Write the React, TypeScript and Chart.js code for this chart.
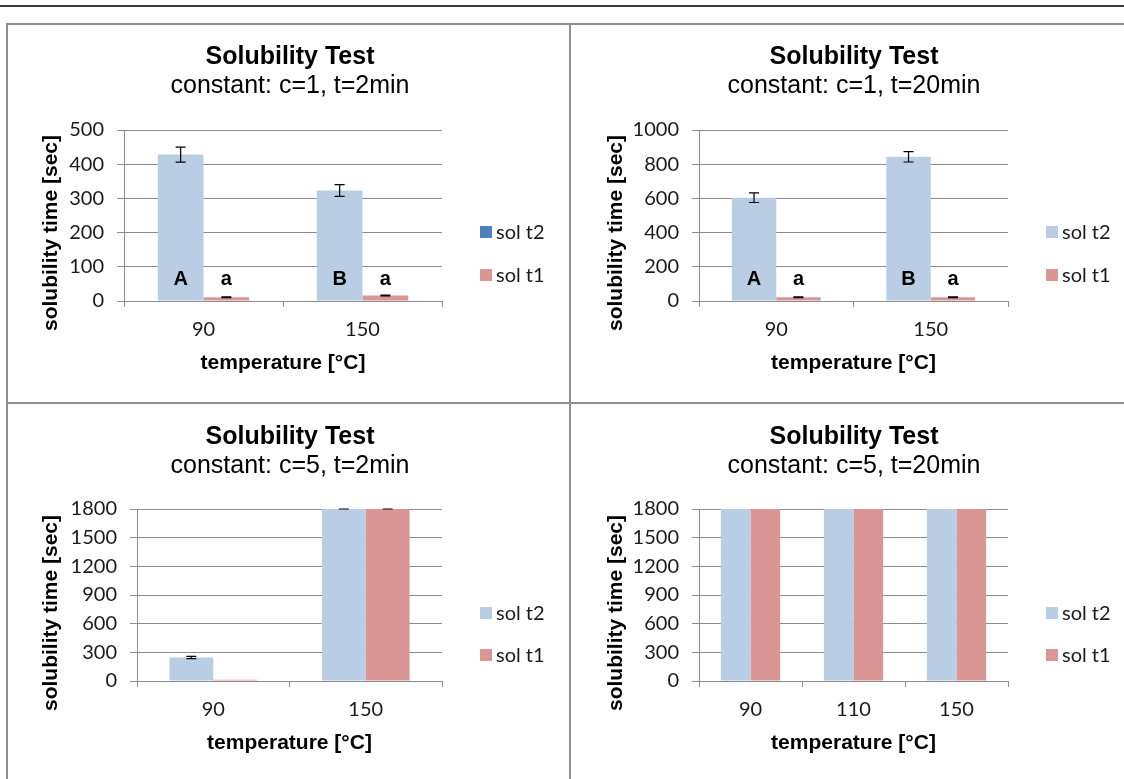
import React, { useEffect, useRef } from "react";
import { Chart, registerables } from "chart.js";

Chart.register(...registerables);

// ---------- data ----------
const SERIES = ["sol t2", "sol t1"];
const MAIN_TITLE = "Solubility Test";
const X_TITLE = "temperature [°C]";
const Y_TITLE = "solubility time [sec]";

// chart 1: c=1, t=2min
const sub1 = "constant: c=1, t=2min";
const cats1 = ["90", "150"];
const solT2_1 = [428, 323];
const solT1_1 = [11, 16];
const errT2_1 = [22, 17];
const errT1_1 = [1, 1];
const letT2_1 = ["A", "B"];
const letT1_1 = ["a", "a"];
const yMax1 = 500;
const yStep1 = 100;

// chart 2: c=1, t=20min
const sub2 = "constant: c=1, t=20min";
const cats2 = ["90", "150"];
const solT2_2 = [604, 843];
const solT1_2 = [22, 22];
const errT2_2 = [28, 30];
const errT1_2 = [2, 2];
const letT2_2 = ["A", "B"];
const letT1_2 = ["a", "a"];
const yMax2 = 1000;
const yStep2 = 200;

// chart 3: c=5, t=2min
const sub3 = "constant: c=5, t=2min";
const cats3 = ["90", "150"];
const solT2_3 = [246, 1800];
const solT1_3 = [12, 1800];
const errT2_3 = [12, 0];
const errT1_3 = [null, 0];
const yMax3 = 1800;
const yStep3 = 300;

// chart 4: c=5, t=20min
const sub4 = "constant: c=5, t=20min";
const cats4 = ["90", "110", "150"];
const solT2_4 = [1800, 1800, 1800];
const solT1_4 = [1800, 1800, 1800];
const yMax4 = 1800;
const yStep4 = 300;

// ---------- style ----------
const BLUE = "#B9CDE5";
const DARK_BLUE = "#4F81BD";
const PINK = "#D99694";
const GRID = "#8c8c8c";
const TEXT = "#1a1a1a";
const ARIAL = '"Liberation Sans", Arial, sans-serif';
const TICKF = 'Lato, "Open Sans", sans-serif';

type Spec = {
  sub: string;
  cats: string[];
  t2: number[];
  t1: number[];
  e2?: (number | null)[];
  e1?: (number | null)[];
  l2?: string[];
  l1?: string[];
  yMax: number;
  yStep: number;
  legendColors: string[];
};

const specs: Spec[] = [
  { sub: sub1, cats: cats1, t2: solT2_1, t1: solT1_1, e2: errT2_1, e1: errT1_1, l2: letT2_1, l1: letT1_1, yMax: yMax1, yStep: yStep1, legendColors: [DARK_BLUE, PINK] },
  { sub: sub2, cats: cats2, t2: solT2_2, t1: solT1_2, e2: errT2_2, e1: errT1_2, l2: letT2_2, l1: letT1_2, yMax: yMax2, yStep: yStep2, legendColors: [BLUE, PINK] },
  { sub: sub3, cats: cats3, t2: solT2_3, t1: solT1_3, e2: errT2_3, e1: errT1_3, yMax: yMax3, yStep: yStep3, legendColors: [BLUE, PINK] },
  { sub: sub4, cats: cats4, t2: solT2_4, t1: solT1_4, yMax: yMax4, yStep: yStep4, legendColors: [BLUE, PINK] },
];

type Layout = {
  left: number; top: number; w: number; h: number;
  l: number; r: number; t: number; b: number;
  titleX: number; titleY: number; subY: number;
  yTitleX: number; yTitleY: number; xTitleY: number;
  legX: number; legY: number[];
};

const layouts: Layout[] = [
  { left: 9, top: 26, w: 560, h: 376, l: 115, r: 433, t: 104, b: 275, titleX: 281, titleY: 31, subY: 60, yTitleX: 42, yTitleY: 207, xTitleY: 337, legX: 471, legY: [206, 249] },
  { left: 572, top: 26, w: 552, h: 376, l: 127, r: 436, t: 104, b: 275, titleX: 282, titleY: 31, subY: 60, yTitleX: 44, yTitleY: 207, xTitleY: 337, legX: 474, legY: [206, 249] },
  { left: 9, top: 405, w: 560, h: 374, l: 128, r: 433, t: 104, b: 276, titleX: 281, titleY: 32, subY: 61, yTitleX: 42, yTitleY: 208, xTitleY: 338, legX: 471, legY: [208, 250] },
  { left: 572, top: 405, w: 552, h: 374, l: 127, r: 436, t: 104, b: 276, titleX: 282, titleY: 32, subY: 61, yTitleX: 44, yTitleY: 208, xTitleY: 338, legX: 474, legY: [208, 250] },
];

function makeDecor(spec: Spec, lay: Layout) {
  return {
    id: "decor",
    afterDatasetsDraw(chart: any) {
      const ctx = chart.ctx as CanvasRenderingContext2D;
      const y = chart.scales.y;
      const errs = [spec.e2, spec.e1];
      const lets = [spec.l2, spec.l1];
      const vals = [spec.t2, spec.t1];
      ctx.save();
      for (let d = 0; d < 2; d++) {
        const meta = chart.getDatasetMeta(d);
        const e = errs[d];
        meta.data.forEach((bar: any, i: number) => {
          if (e && e[i] !== null && e[i] !== undefined) {
            const v = vals[d][i];
            const yTop = y.getPixelForValue(v + (e[i] as number));
            const yBot = y.getPixelForValue(v - (e[i] as number));
            ctx.strokeStyle = "#000";
            ctx.lineWidth = 1.2;
            ctx.beginPath();
            ctx.moveTo(bar.x, yTop);
            ctx.lineTo(bar.x, yBot);
            ctx.moveTo(bar.x - 5, yTop);
            ctx.lineTo(bar.x + 5, yTop);
            ctx.moveTo(bar.x - 5, yBot);
            ctx.lineTo(bar.x + 5, yBot);
            ctx.stroke();
          }
          const L = lets[d];
          if (L && L[i]) {
            ctx.fillStyle = "#000";
            ctx.font = `bold 20px ${ARIAL}`;
            ctx.textAlign = "center";
            ctx.textBaseline = "middle";
            ctx.fillText(L[i], bar.x, y.bottom - 22);
          }
        });
      }
      ctx.restore();
    },
    afterDraw(chart: any) {
      const ctx = chart.ctx as CanvasRenderingContext2D;
      const ca = chart.chartArea;
      ctx.save();
      ctx.fillStyle = "#000";
      ctx.textAlign = "center";
      ctx.textBaseline = "middle";
      ctx.font = `bold 25px ${ARIAL}`;
      ctx.fillText(MAIN_TITLE, lay.titleX, lay.titleY);
      ctx.font = `25px ${ARIAL}`;
      ctx.fillText(spec.sub, lay.titleX, lay.subY);
      ctx.font = `bold 21px ${ARIAL}`;
      ctx.fillText(X_TITLE, (ca.left + ca.right) / 2, lay.xTitleY);
      ctx.save();
      ctx.translate(lay.yTitleX, lay.yTitleY);
      ctx.rotate(-Math.PI / 2);
      ctx.fillText(Y_TITLE, 0, 0);
      ctx.restore();
      ctx.textAlign = "left";
      ctx.font = `20px ${TICKF}`;
      SERIES.forEach((s, k) => {
        ctx.fillStyle = spec.legendColors[k];
        ctx.fillRect(lay.legX, lay.legY[k] - 6, 12, 12);
        ctx.fillStyle = TEXT;
        ctx.fillText(s, lay.legX + 16, lay.legY[k] + 1);
      });
      ctx.restore();
    },
  };
}

function ChartCell({ spec, lay }: { spec: Spec; lay: Layout }) {
  const ref = useRef<HTMLCanvasElement | null>(null);
  useEffect(() => {
    if (!ref.current) return;
    const chart = new Chart(ref.current, {
      type: "bar",
      data: {
        labels: spec.cats,
        datasets: [
          { label: SERIES[0], data: spec.t2, backgroundColor: BLUE, borderWidth: 0 },
          { label: SERIES[1], data: spec.t1, backgroundColor: PINK, borderWidth: 0 },
        ],
      },
      options: {
        responsive: false,
        animation: false,
        devicePixelRatio: 1,
        layout: { padding: { left: 0, top: lay.t, right: lay.w - lay.r, bottom: 0 } },
        datasets: { bar: { barPercentage: 1, categoryPercentage: 0.575 } },
        plugins: { legend: { display: false }, title: { display: false }, tooltip: { enabled: false } },
        scales: {
          x: {
            type: "category",
            offset: true,
            grid: { display: true, drawOnChartArea: false, drawTicks: true, tickLength: 6, color: GRID, lineWidth: 1, offset: true },
            border: { display: true, color: GRID, width: 1 },
            ticks: { color: TEXT, font: { family: TICKF, size: 20 }, padding: 11, maxRotation: 0 },
            afterFit: (s: any) => { s.height = lay.h - lay.b; },
          },
          y: {
            min: 0,
            max: spec.yMax,
            grid: { color: GRID, lineWidth: 1, drawTicks: true, tickLength: 7 },
            border: { display: true, color: GRID, width: 1 },
            ticks: {
              stepSize: spec.yStep,
              color: TEXT,
              font: { family: TICKF, size: 20 },
              padding: 13,
              callback: (v: any) => String(v),
            },
            afterFit: (s: any) => { s.width = lay.l; },
          },
        },
      },
      plugins: [makeDecor(spec, lay)],
    });
    return () => chart.destroy();
  }, []);
  return (
    <canvas
      ref={ref}
      width={lay.w}
      height={lay.h}
      style={{ position: "absolute", left: lay.left, top: lay.top, width: lay.w, height: lay.h }}
    />
  );
}

export default function App() {
  const line = (s: React.CSSProperties) => <div style={{ position: "absolute", background: "#8f8f8f", ...s }} />;
  return (
    <div style={{ position: "fixed", left: 0, top: 0, width: 1124, height: 779, background: "#fff", overflow: "hidden" }}>
      <div style={{ position: "absolute", left: 0, top: 5, width: 1124, height: 2, background: "#3a3a3a" }} />
      {specs.map((s, i) => (
        <ChartCell key={i} spec={s} lay={layouts[i]} />
      ))}
      {line({ left: 6, top: 23, width: 1118, height: 2 })}
      {line({ left: 6, top: 23, width: 2, height: 756 })}
      {line({ left: 569, top: 23, width: 2, height: 756 })}
      {line({ left: 6, top: 402, width: 1118, height: 2 })}
    </div>
  );
}
